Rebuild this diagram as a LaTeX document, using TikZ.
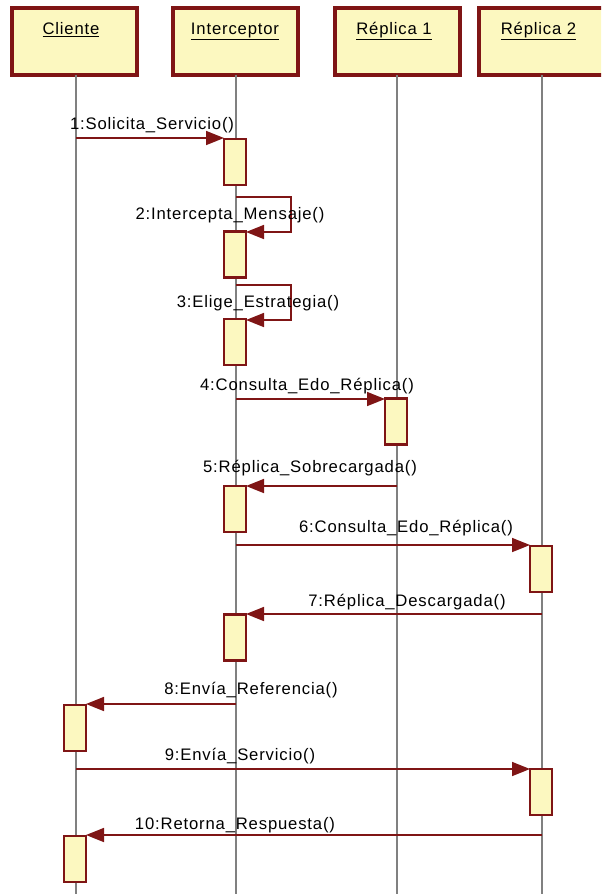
\documentclass[tikz,border=0pt]{standalone}
\usepackage{fontspec}
\setmainfont{Liberation Sans}[LetterSpace=5]
\usetikzlibrary{arrows.meta}
\definecolor{brd}{HTML}{7F1515}
\definecolor{yfill}{HTML}{FCF8C0}
\definecolor{lgray}{HTML}{808080}
\tikzset{
  hdr/.style={draw=brd, fill=yfill, line width=3pt, minimum width=93.75pt, minimum height=50.25pt, inner sep=0pt, outer sep=0pt},
  hdrtxt/.style={anchor=base, font=\fontsize{12.5}{14}\selectfont, inner sep=0pt},
  act/.style={draw=brd, fill=yfill, line width=2.2pt, minimum width=16.5pt, minimum height=34.5pt, inner sep=0pt, outer sep=0pt},
  life/.style={draw=lgray, line width=1.5pt},
  msg/.style={draw=brd, line width=1.2pt, -{Triangle[length=13.5pt,width=10.5pt]}},
  mlbl/.style={anchor=base, font=\fontsize{12.5}{14}\selectfont, inner sep=0pt}
}
\begin{document}
\begin{tikzpicture}[x=0.75pt,y=-0.75pt]
\useasboundingbox (0,0) rectangle (601,894);
\clip (0,0) rectangle (601,894);
\fill[white] (0,0) rectangle (601,894);
% headers
\node[hdr] (cli) at (74.5,41.5) {};
\node[hdr] (int) at (235,41.5) {};
\node[hdr] (r1) at (397,41.5) {};
\node[hdr] (r2) at (541,41.5) {};
\node[hdrtxt] (tcli) at (71,34) {\underline{Cliente}};
\node[hdrtxt] (tint) at (235,34) {\underline{Interceptor}};
\node[hdrtxt] (tr1) at (394,34) {\underline{Réplica 1}};
\node[hdrtxt] (tr2) at (538.5,34) {\underline{Réplica 2}};
% lifelines
\coordinate (bot) at (0,896);
\coordinate (lcli) at (76,75);
\coordinate (lint) at (236,75);
\coordinate (lr1) at (397,75);
\coordinate (lr2) at (542,75);
\draw[life] (lcli) -- (lcli |- bot);
\draw[life] (lint) -- (lint |- bot);
\draw[life] (lr1) -- (lr1 |- bot);
\draw[life] (lr2) -- (lr2 |- bot);
% activations
\node[act] (a1) at (235,162) {};
\node[act] (a2) at (235,254.5) {};
\node[act] (a3) at (235,342) {};
\node[act] (a4) at (396,421.5) {};
\node[act] (a5) at (235,509) {};
\node[act] (a6) at (541,569) {};
\node[act] (a7) at (235,637.5) {};
\node[act] (a8) at (75,728) {};
\node[act] (a9) at (541,792) {};
\node[act] (a10) at (75,859) {};
% message heights
\coordinate (y1) at (0,138);
\coordinate (y2a) at (0,197);
\coordinate (y2b) at (0,232);
\coordinate (y3a) at (0,285);
\coordinate (y3b) at (0,320);
\coordinate (y4) at (0,399);
\coordinate (y5) at (0,486);
\coordinate (y6) at (0,545);
\coordinate (y7) at (0,614);
\coordinate (y8) at (0,704);
\coordinate (y9) at (0,769);
\coordinate (y10) at (0,835);
\coordinate (loopx) at (291,0);
% messages
\draw[msg] (lcli |- y1) -- (a1.west |- y1);
\draw[msg] (lint |- y2a) -- (loopx |- y2a) -- (loopx |- y2b) -- (a2.east |- y2b);
\draw[msg] (lint |- y3a) -- (loopx |- y3a) -- (loopx |- y3b) -- (a3.east |- y3b);
\draw[msg] (lint |- y4) -- (a4.west |- y4);
\draw[msg] (lr1 |- y5) -- (a5.east |- y5);
\draw[msg] (lint |- y6) -- (a6.west |- y6);
\draw[msg] (lr2 |- y7) -- (a7.east |- y7);
\draw[msg] (lint |- y8) -- (a8.east |- y8);
\draw[msg] (lcli |- y9) -- (a9.west |- y9);
\draw[msg] (lr2 |- y10) -- (a10.east |- y10);
% labels
\node[mlbl] (m1) at (152,129) {1:Solicita\_Servicio()};
\node[mlbl] (m2) at (230,219) {2:Intercepta\_Mensaje()};
\node[mlbl] (m3) at (258,307) {3:Elige\_Estrategia()};
\node[mlbl] (m4) at (307,390) {4:Consulta\_Edo\_Réplica()};
\node[mlbl] (m5) at (310,472) {5:Réplica\_Sobrecargada()};
\node[mlbl] (m6) at (406,532) {6:Consulta\_Edo\_Réplica()};
\node[mlbl] (m7) at (407,606) {7:Réplica\_Descargada()};
\node[mlbl] (m8) at (251,694) {8:Envía\_Referencia()};
\node[mlbl] (m9) at (240,760) {9:Envía\_Servicio()};
\node[mlbl] (m10) at (235,829) {10:Retorna\_Respuesta()};
\end{tikzpicture}
\end{document}
